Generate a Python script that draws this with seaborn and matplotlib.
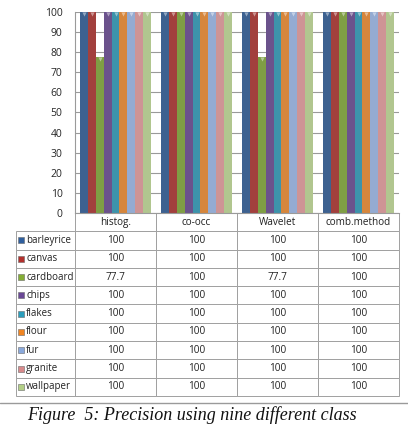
import numpy as np
import pandas as pd
import matplotlib
matplotlib.use("Agg")
import matplotlib.pyplot as plt
from matplotlib.patches import Rectangle
import seaborn as sns

methods = ["histog.", "co-occ", "Wavelet", "comb.method"]
classes = ["barleyrice", "canvas", "cardboard", "chips", "flakes",
           "flour", "fur", "granite", "wallpaper"]
histog = [100, 100, 77.7, 100, 100, 100, 100, 100, 100]
co_occ = [100, 100, 100, 100, 100, 100, 100, 100, 100]
wavelet = [100, 100, 77.7, 100, 100, 100, 100, 100, 100]
comb_method = [100, 100, 100, 100, 100, 100, 100, 100, 100]
colors = ["#2f5f9e", "#b3302c", "#84ad35", "#6a4896", "#2b9ebd",
          "#f08522", "#8aa9dc", "#d88a8c", "#b3cf86"]

values = [histog, co_occ, wavelet, comb_method]
df = pd.DataFrame({
    "method": np.repeat(methods, len(classes)),
    "cls": classes * len(methods),
    "value": np.concatenate(values),
})

sns.set_style("white")
plt.rcParams["font.family"] = ["Open Sans", "DejaVu Sans"]

W, H = 408, 426
fig = plt.figure(figsize=(W / 100, H / 100), dpi=100)
x0, x1, ytop, ybot = 75, 399, 12, 213
ax = fig.add_axes([x0 / W, 1 - ybot / H, (x1 - x0) / W, (ybot - ytop) / H])

sns.barplot(data=df, x="method", y="value", hue="cls", hue_order=classes,
            palette=colors, width=0.87, ax=ax, legend=False,
            edgecolor="none", linewidth=0)

# light caps on top of bars (Excel-like glow)
for bar in ax.patches:
    h = bar.get_height()
    ax.plot(bar.get_x() + bar.get_width() / 2, h - 1.2, marker="v",
            ms=3, color="white", alpha=0.45, mec="none", zorder=4)

ax.set_ylim(0, 100)
ax.set_xlim(-0.5, 3.5)
ax.set_yticks(range(0, 101, 10))
ax.tick_params(axis="y", labelsize=7.5, length=0, pad=9)
ax.set_xticks([])
ax.set_xlabel("")
ax.set_ylabel("")
ax.grid(axis="y", color="#9a9a9a", lw=0.8)
ax.set_axisbelow(True)
for s in ["top", "right"]:
    ax.spines[s].set_visible(False)
ax.spines["left"].set_color("#9a9a9a")
ax.spines["bottom"].set_color("#9a9a9a")

# data table below the axes
axw = x1 - x0
axh = ybot - ytop
tleft, tbot = 16, 396
cell_text = [[""] + methods]
for i, c in enumerate(classes):
    cell_text.append([c] + [f"{v[i]:g}" for v in values])
lab_w = (x0 - tleft) / axw
col_w = (x1 - x0) / 4 / axw
tab = ax.table(cellText=cell_text,
               colWidths=[lab_w] + [col_w] * 4,
               cellLoc="center",
               bbox=[(tleft - x0) / axw, (ybot - tbot) / axh,
                     (x1 - tleft) / axw, (tbot - ybot) / axh])
tab.auto_set_font_size(False)
nrows = len(classes) + 1
for (r, c), cell in tab.get_celld().items():
    cell.set_edgecolor("#a0a0a0")
    cell.set_linewidth(0.7)
    cell.get_text().set_fontsize(7.2)
    cell.get_text().set_color("#222222")
    if c == 0:
        cell._loc = "left"
        cell.get_text().set_ha("left")
        cell.PAD = 0.17
        cell.get_text().set_fontsize(7)
    if r == 0 and c == 0:
        cell.visible_edges = ""

# colored legend keys in label column
row_h = (tbot - ybot) / nrows
for i, col in enumerate(colors):
    yc = ybot + row_h * (i + 1.5)
    s = 6
    fig.patches.append(Rectangle(((tleft + 2) / W, 1 - (yc + s / 2) / H),
                                 s / W, s / H, transform=fig.transFigure,
                                 facecolor=col, edgecolor="#6a6a6a",
                                 lw=0.4, figure=fig))

# separator line and caption
fig.add_artist(plt.Line2D([0, 1], [1 - 403 / H, 1 - 403 / H],
                          transform=fig.transFigure, color="#9a9a9a", lw=1))
fig.text(0.47, 1 - 415.5 / H, "Figure  5: Precision using nine different class",
         ha="center", va="center", fontsize=13, style="italic",
         family="Liberation Serif", color="#111111")

fig.savefig("out.png", dpi=100)
